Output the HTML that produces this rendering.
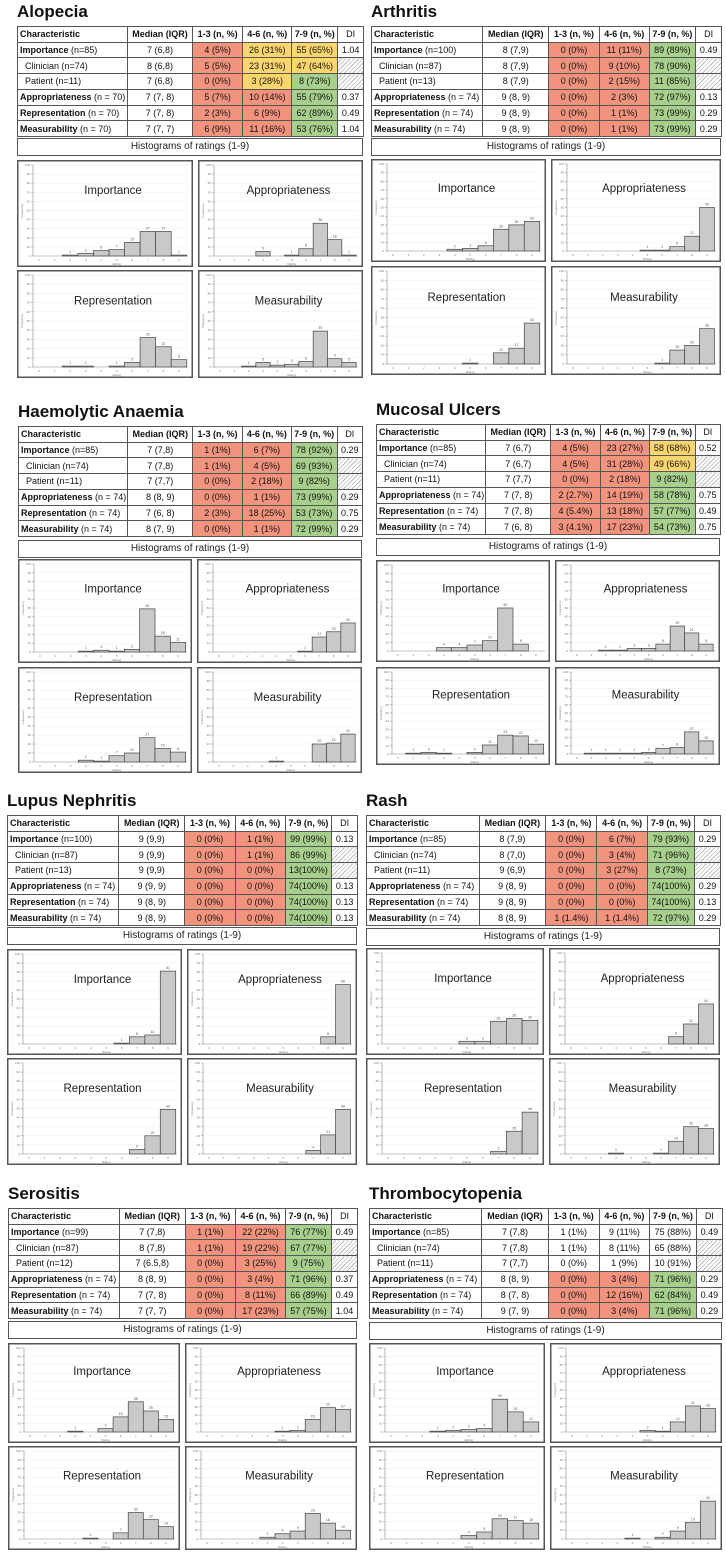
<!DOCTYPE html>
<html><head><meta charset="utf-8">
<style>
body{margin:0;width:726px;height:1552px;background:#fff;position:relative;overflow:hidden;font-family:"Liberation Sans",Arial,sans-serif;}
.title{position:absolute;font-weight:bold;font-size:17px;line-height:18px;color:#111;}
table{position:absolute;border-collapse:collapse;table-layout:fixed;font-size:9px;color:#111;}
td{border:1px solid #555;padding:0 2px;text-align:center;white-space:nowrap;overflow:hidden;}
td.c{text-align:left;}
td.sub{padding-left:7px;}
tr.h td{font-weight:bold;}
.r{background:#f2937e;}.y{background:#fbd66e;}.g{background:#a8d08d;}
.hatch{background:repeating-linear-gradient(135deg,#fff 0 2px,#bbb 2px 3px);}
.cap{position:absolute;border:1px solid #555;font-size:10px;text-align:center;box-sizing:border-box;color:#222;}
svg.h{position:absolute;}
</style></head><body>
<script>
// ---- data: counts for ratings 1..9 (Importance, Appropriateness, Representation, Measurability)
const ratings = [1,2,3,4,5,6,7,8,9];
const yTicks = [0,10,20,30,40,50,60,70,80,90,100];
const xTicks = [0,1,2,3,4,5,6,7,8,9];
const histTitles = ["Importance","Appropriateness","Representation","Measurability"];
const alopeciaCounts = [[0,1,3,6,7,15,27,27,1],[0,0,5,0,1,8,36,18,1],[0,1,1,0,1,5,32,22,8],[0,1,5,2,3,6,39,9,5]];
const arthritisCounts = [[0,0,0,2,3,6,25,30,34],[0,0,0,0,1,1,5,17,50],[0,0,0,0,1,0,12,17,44],[0,0,0,0,0,1,15,20,38]];
const haemolyticCounts = [[0,0,1,2,1,3,49,18,11],[0,0,0,0,0,1,17,23,33],[0,0,2,1,7,10,27,15,11],[0,0,0,1,0,0,20,21,31]];
const mucosalCounts = [[0,0,4,4,7,12,50,8,0],[0,1,1,3,3,8,29,21,8],[1,2,1,0,2,11,23,22,12],[1,1,1,1,2,7,8,27,16]];
const lupusCounts = [[0,0,0,0,0,1,8,10,81],[0,0,0,0,0,0,0,8,66],[0,0,0,0,0,0,5,20,49],[0,0,0,0,0,0,4,21,49]];
const rashCounts = [[0,0,0,0,3,3,25,28,26],[0,0,0,0,0,0,8,22,44],[0,0,0,0,0,0,3,25,46],[0,0,1,0,0,1,14,30,28]];
const serositisCounts = [[0,0,1,0,4,18,36,25,15],[0,0,0,0,1,2,15,29,27],[0,0,0,1,0,7,30,22,14],[0,0,0,2,6,9,29,18,10]];
const thromboCounts = [[0,0,1,2,3,4,39,24,12],[0,0,0,0,2,1,12,31,28],[0,0,0,0,4,8,23,21,18],[0,0,0,1,0,2,9,19,43]];

// table rows: [label bold, label rest, median, c13, c46, c79, DI, colors]
const alopeciaRows = [["Importance"," (n=85)","7 (6,8)","4 (5%)","26 (31%)","55 (65%)","1.04","ryy"],["Clinician (n=74)","","8 (6,8)","5 (5%)","23 (31%)","47 (64%)","","ryy"],["Patient (n=11)","","7 (6,8)","0 (0%)","3 (28%)","8 (73%)","","ryg"],["Appropriateness"," (n = 70)","7 (7, 8)","5 (7%)","10 (14%)","55 (79%)","0.37","rrg"],["Representation"," (n = 70)","7 (7, 8)","2 (3%)","6 (9%)","62 (89%)","0.49","rrg"],["Measurability"," (n = 70)","7 (7, 7)","6 (9%)","11 (16%)","53 (76%)","1.04","rrg"]];
const arthritisRows = [["Importance"," (n=100)","8 (7,9)","0 (0%)","11 (11%)","89 (89%)","0.49","rrg"],["Clinician (n=87)","","8 (7,9)","0 (0%)","9 (10%)","78 (90%)","","rrg"],["Patient (n=13)","","8 (7,9)","0 (0%)","2 (15%)","11 (85%)","","rrg"],["Appropriateness"," (n = 74)","9 (8, 9)","0 (0%)","2 (3%)","72 (97%)","0.13","rrg"],["Representation"," (n = 74)","9 (8, 9)","0 (0%)","1 (1%)","73 (99%)","0.29","rrg"],["Measurability"," (n = 74)","9 (8, 9)","0 (0%)","1 (1%)","73 (99%)","0.29","rrg"]];
const haemolyticRows = [["Importance"," (n=85)","7 (7,8)","1 (1%)","6 (7%)","78 (92%)","0.29","rrg"],["Clinician (n=74)","","7 (7,8)","1 (1%)","4 (5%)","69 (93%)","","rrg"],["Patient (n=11)","","7 (7,7)","0 (0%)","2 (18%)","9 (82%)","","rrg"],["Appropriateness"," (n = 74)","8 (8, 9)","0 (0%)","1 (1%)","73 (99%)","0.29","rrg"],["Representation"," (n = 74)","7 (6, 8)","2 (3%)","18 (25%)","53 (73%)","0.75","rrg"],["Measurability"," (n = 74)","8 (7, 9)","0 (0%)","1 (1%)","72 (99%)","0.29","rrg"]];
const mucosalRows = [["Importance"," (n=85)","7 (6,7)","4 (5%)","23 (27%)","58 (68%)","0.52","rry"],["Clinician (n=74)","","7 (6,7)","4 (5%)","31 (28%)","49 (66%)","","rry"],["Patient (n=11)","","7 (7,7)","0 (0%)","2 (18%)","9 (82%)","","rrg"],["Appropriateness"," (n = 74)","7 (7, 8)","2 (2.7%)","14 (19%)","58 (78%)","0.75","rrg"],["Representation"," (n = 74)","7 (7, 8)","4 (5.4%)","13 (18%)","57 (77%)","0.49","rrg"],["Measurability"," (n = 74)","7 (6, 8)","3 (4.1%)","17 (23%)","54 (73%)","0.75","rrg"]];
const lupusRows = [["Importance"," (n=100)","9 (9,9)","0 (0%)","1 (1%)","99 (99%)","0.13","rrg"],["Clinician (n=87)","","9 (9,9)","0 (0%)","1 (1%)","86 (99%)","","rrg"],["Patient (n=13)","","9 (9,9)","0 (0%)","0 (0%)","13(100%)","","rrg"],["Appropriateness"," (n = 74)","9 (9, 9)","0 (0%)","0 (0%)","74(100%)","0.13","rrg"],["Representation"," (n = 74)","9 (8, 9)","0 (0%)","0 (0%)","74(100%)","0.13","rrg"],["Measurability"," (n = 74)","9 (8, 9)","0 (0%)","0 (0%)","74(100%)","0.13","rrg"]];
const rashRows = [["Importance"," (n=85)","8 (7,9)","0 (0%)","6 (7%)","79 (93%)","0.29","rrg"],["Clinician (n=74)","","8 (7,0)","0 (0%)","3 (4%)","71 (96%)","","rrg"],["Patient (n=11)","","9 (6,9)","0 (0%)","3 (27%)","8 (73%)","","rrg"],["Appropriateness"," (n = 74)","9 (8, 9)","0 (0%)","0 (0%)","74(100%)","0.29","rrg"],["Representation"," (n = 74)","9 (8, 9)","0 (0%)","0 (0%)","74(100%)","0.13","rrg"],["Measurability"," (n = 74)","8 (8, 9)","1 (1.4%)","1 (1.4%)","72 (97%)","0.29","rrg"]];
const serositisRows = [["Importance"," (n=99)","7 (7,8)","1 (1%)","22 (22%)","76 (77%)","0.49","rrg"],["Clinician (n=87)","","8 (7,8)","1 (1%)","19 (22%)","67 (77%)","","rrg"],["Patient (n=12)","","7 (6.5,8)","0 (0%)","3 (25%)","9 (75%)","","rrg"],["Appropriateness"," (n = 74)","8 (8, 9)","0 (0%)","3 (4%)","71 (96%)","0.37","rrg"],["Representation"," (n = 74)","7 (7, 8)","0 (0%)","8 (11%)","66 (89%)","0.49","rrg"],["Measurability"," (n = 74)","7 (7, 7)","0 (0%)","17 (23%)","57 (75%)","1.04","rrg"]];
const thromboRows = [["Importance"," (n=85)","7 (7,8)","1 (1%)","9 (11%)","75 (88%)","0.49","www"],["Clinician (n=74)","","7 (7,8)","1 (1%)","8 (11%)","65 (88%)","","www"],["Patient (n=11)","","7 (7,7)","0 (0%)","1 (9%)","10 (91%)","","www"],["Appropriateness"," (n = 74)","8 (8, 9)","0 (0%)","3 (4%)","71 (96%)","0.29","rrg"],["Representation"," (n = 74)","8 (7, 8)","0 (0%)","12 (16%)","62 (84%)","0.49","rrg"],["Measurability"," (n = 74)","9 (7, 9)","0 (0%)","3 (4%)","71 (96%)","0.29","rrg"]];

const panels = [
 {t:"Alopecia",x:17,w:346,tt:26,cap:138,h1:160,h1h:107,h2:270,h2h:108,lw:176,rows:alopeciaRows,c:alopeciaCounts},
 {t:"Arthritis",x:371,w:350,tt:26,cap:138,h1:159,h1h:103,h2:266,h2h:109,lw:175,rows:arthritisRows,c:arthritisCounts},
 {t:"Haemolytic Anaemia",x:18,w:344,tt:426,cap:540,h1:559,h1h:104,h2:667,h2h:106,lw:174,rows:haemolyticRows,c:haemolyticCounts},
 {t:"Mucosal Ulcers",x:376,w:344,tt:424,cap:538,h1:560,h1h:102,h2:667,h2h:98,lw:174,rows:mucosalRows,c:mucosalCounts},
 {t:"Lupus Nephritis",x:7,w:350,tt:815,cap:927,h1:949,h1h:106,h2:1058,h2h:107,lw:175,rows:lupusRows,c:lupusCounts},
 {t:"Rash",x:366,w:354,tt:815,cap:928,h1:948,h1h:107,h2:1058,h2h:107,lw:178,rows:rashRows,c:rashCounts},
 {t:"Serositis",x:8,w:349,tt:1208,cap:1321,h1:1343,h1h:100,h2:1446,h2h:104,lw:172,rows:serositisRows,c:serositisCounts},
 {t:"Thrombocytopenia",x:369,w:353,tt:1208,cap:1322,h1:1343,h1h:100,h2:1446,h2h:104,lw:176,rows:thromboRows,c:thromboCounts}
];
const fr=[.318,.188,.145,.142,.133,.074];
const NS="http://www.w3.org/2000/svg";
function mk(tag,attrs,parent){const e=document.createElementNS(NS,tag);for(const k in attrs)e.setAttribute(k,attrs[k]);parent.appendChild(e);return e;}

function hist(px,py,w,h,counts,title,parent){
  const s=document.createElementNS(NS,"svg");
  
  
  s.setAttribute("class","h");s.setAttribute("width",w);s.setAttribute("height",h);
  s.style.left=px+"px";s.style.top=py+"px";
  mk("rect",{x:0.75,y:0.75,width:w-1.5,height:h-1.5,fill:"#fff",stroke:"#555","stroke-width":1.5},s);
  const ax=16, x0=ax+6, x9=w-14, top=5, bot=h-11;
  const X=v=>x0+(x9-x0)*v/9, Y=v=>bot-(bot-top)*v/100;
  yTicks.forEach(t=>{ if(t>0) mk("line",{x1:ax,x2:w-5,y1:Y(t),y2:Y(t),stroke:"#eee","stroke-width":0.5},s);
    mk("line",{x1:ax-2,x2:ax,y1:Y(t),y2:Y(t),stroke:"#888","stroke-width":0.5},s);
    const tx=mk("text",{x:ax-3,y:Y(t)+1,"font-size":3,"text-anchor":"end",fill:"#777"},s);tx.textContent=t;});
  mk("line",{x1:ax,x2:ax,y1:top,y2:bot,stroke:"#888","stroke-width":0.6},s);
  mk("line",{x1:ax,x2:w-5,y1:bot,y2:bot,stroke:"#888","stroke-width":0.6},s);
  xTicks.forEach(t=>{const tx=mk("text",{x:X(t),y:bot+5,"font-size":3,"text-anchor":"middle",fill:"#777"},s);tx.textContent=t;});
  const yl=mk("text",{x:6,y:(top+bot)/2,"font-size":3,"text-anchor":"middle",fill:"#777",transform:`rotate(-90 6 ${(top+bot)/2})`},s);yl.textContent="Frequency";
  const xl=mk("text",{x:X(5),y:bot+9,"font-size":3,"text-anchor":"middle",fill:"#777"},s);xl.textContent="Rating";
  const bw=(x9-x0)/9;
  ratings.forEach((r,i)=>{const v=counts[i]; if(!v) return;
    const b=mk("rect",{x:X(r)-bw/2,y:Y(v),width:bw,height:Math.max(bot-Y(v),0.8),fill:"#c9c9c9",stroke:"#444","stroke-width":0.7},s);
    
    
    const l=mk("text",{x:X(r),y:Y(v)-2,"font-size":3.5,"text-anchor":"middle",fill:"#555"},s);l.textContent=v;});
  const tt=mk("text",{x:(ax+w)/2,y:h*0.32,"font-size":11.5,"text-anchor":"middle",fill:"#222"},s);tt.textContent=title;
  parent.appendChild(s);
}

panels.forEach(p=>{
  const slug=p.t.toLowerCase().replace(/ /g,'-');
  const ti=document.createElement("div");ti.className="title";
  
  
  ti.style.left=p.x+"px";ti.style.top=(p.tt-23)+"px";ti.textContent=p.t;document.body.appendChild(ti);
  const tb=document.createElement("table");
  
  
  tb.style.left=p.x+"px";tb.style.top=p.tt+"px";tb.style.width=p.w+"px";
  let html="<colgroup>"+fr.map(f=>`<col style="width:${(f*p.w).toFixed(1)}px">`).join("")+"</colgroup>";
  const rh=(110/7).toFixed(2);
  html+=`<tr class="h" style="height:${rh}px"><td class="c">Characteristic</td><td>Median (IQR)</td><td>1-3 (n, %)</td><td>4-6 (n, %)</td><td>7-9 (n, %)</td><td style="font-weight:normal">DI</td></tr>`;
  p.rows.forEach((r,i)=>{const sub=(i==1||i==2);
    const cl=r[7].split("").map(c=>c=="w"?"":c);
    html+=`<tr style="height:${rh}px"><td class="c${sub?' sub':''}">${sub?r[0]:'<b>'+r[0]+'</b>'+r[1]}</td><td>${r[2]}</td><td class="${cl[0]}">${r[3]}</td><td class="${cl[1]}">${r[4]}</td><td class="${cl[2]}">${r[5]}</td><td class="${sub?'hatch':''}">${r[6]}</td></tr>`;});
  tb.innerHTML=html;document.body.appendChild(tb);
  const cp=document.createElement("div");cp.className="cap";
  
  
  cp.style.left=p.x+"px";cp.style.top=p.cap+"px";cp.style.width=p.w+"px";cp.style.height="18px";cp.style.lineHeight="16px";
  cp.textContent="Histograms of ratings (1-9)";document.body.appendChild(cp);
  const rw=p.w-p.lw-5;
  hist(p.x,p.h1,p.lw,p.h1h,p.c[0],histTitles[0],document.body);
  hist(p.x+p.lw+5,p.h1,rw,p.h1h,p.c[1],histTitles[1],document.body);
  hist(p.x,p.h2,p.lw,p.h2h,p.c[2],histTitles[2],document.body);
  hist(p.x+p.lw+5,p.h2,rw,p.h2h,p.c[3],histTitles[3],document.body);
});
</script>
</body></html>
